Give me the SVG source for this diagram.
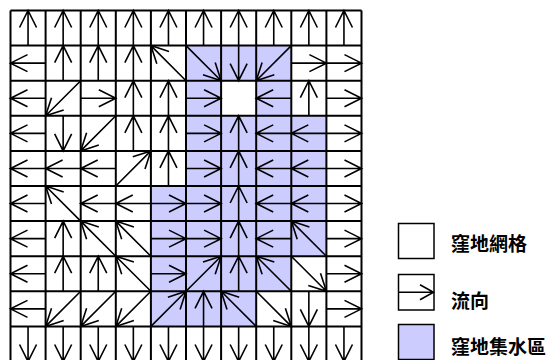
<svg xmlns="http://www.w3.org/2000/svg" xmlns:xlink="http://www.w3.org/1999/xlink" width="547" height="360" viewBox="0 0 547 360">
<style>
.a{fill:none;stroke:#000;stroke-width:1.6;}
.g{fill:none;stroke:#000;stroke-width:2;}
.p{fill:#ccccff;}
.lb{fill:#fff;stroke:#000;stroke-width:1.5;}
.lp{fill:#ccccff;stroke:#000;stroke-width:1.5;}
.t{font-family:"Noto Sans CJK TC","Noto Sans CJK SC",sans-serif;font-size:19px;font-weight:bold;fill:#000;}
</style>
<defs>
<path id="U" class="a" d="M17.55,35.1 V0 M9.05,17 L17.55,0 L26.05,17"/>
<path id="D" class="a" d="M17.55,0 V35.1 M9.05,18.1 L17.55,35.1 L26.05,18.1"/>
<path id="L" class="a" d="M35.1,17.55 H0 M17,9.05 L0,17.55 L17,26.05"/>
<path id="R" class="a" d="M0,17.55 H35.1 M18.1,9.05 L35.1,17.55 L18.1,26.05"/>
<path id="NW" class="a" d="M35.1,35.1 L0,0 M18.1,5.9 L0,0 L5.9,18.1"/>
<path id="NE" class="a" d="M0,35.1 L35.1,0 M17,5.9 L35.1,0 L29.2,18.1"/>
<path id="SW" class="a" d="M35.1,0 L0,35.1 M5.9,17 L0,35.1 L18.1,29.2"/>
<path id="SE" class="a" d="M0,0 L35.1,35.1 M29.2,17 L35.1,35.1 L17,29.2"/>
</defs>
<rect width="547" height="360" fill="#fff"/>
<g id="catchment">
<rect class="p" x="186" y="45.6" width="105.3" height="35.1"/>
<rect class="p" x="186" y="80.7" width="35.1" height="35.1"/>
<rect class="p" x="256.2" y="80.7" width="35.1" height="35.1"/>
<rect class="p" x="186" y="115.8" width="140.4" height="70.2"/>
<rect class="p" x="150.9" y="186" width="175.5" height="70.2"/>
<rect class="p" x="150.9" y="256.2" width="140.4" height="35.1"/>
<rect class="p" x="150.9" y="291.3" width="105.3" height="35.1"/>
</g>
<g id="flow-arrows">
<!-- row 0 -->
<use href="#U" x="10.5" y="10.5"/><use href="#U" x="45.6" y="10.5"/><use href="#U" x="80.7" y="10.5"/><use href="#U" x="115.8" y="10.5"/><use href="#U" x="150.9" y="10.5"/><use href="#U" x="186" y="10.5"/><use href="#U" x="221.1" y="10.5"/><use href="#U" x="256.2" y="10.5"/><use href="#U" x="291.3" y="10.5"/><use href="#U" x="326.4" y="10.5"/>
<!-- row 1 -->
<use href="#L" x="10.5" y="45.6"/><use href="#U" x="45.6" y="45.6"/><use href="#U" x="80.7" y="45.6"/><use href="#U" x="115.8" y="45.6"/><use href="#NW" x="150.9" y="45.6"/><use href="#SE" x="186" y="45.6"/><use href="#D" x="221.1" y="45.6"/><use href="#SW" x="256.2" y="45.6"/><use href="#R" x="291.3" y="45.6"/><use href="#R" x="326.4" y="45.6"/>
<!-- row 2 -->
<use href="#L" x="10.5" y="80.7"/><use href="#SW" x="45.6" y="80.7"/><use href="#R" x="80.7" y="80.7"/><use href="#U" x="115.8" y="80.7"/><use href="#U" x="150.9" y="80.7"/><use href="#R" x="186" y="80.7"/><use href="#L" x="256.2" y="80.7"/><use href="#U" x="291.3" y="80.7"/><use href="#R" x="326.4" y="80.7"/>
<!-- row 3 -->
<use href="#L" x="10.5" y="115.8"/><use href="#D" x="45.6" y="115.8"/><use href="#SW" x="80.7" y="115.8"/><use href="#U" x="115.8" y="115.8"/><use href="#U" x="150.9" y="115.8"/><use href="#R" x="186" y="115.8"/><use href="#U" x="221.1" y="115.8"/><use href="#L" x="256.2" y="115.8"/><use href="#L" x="291.3" y="115.8"/><use href="#R" x="326.4" y="115.8"/>
<!-- row 4 -->
<use href="#L" x="10.5" y="150.9"/><use href="#L" x="45.6" y="150.9"/><use href="#L" x="80.7" y="150.9"/><use href="#NE" x="115.8" y="150.9"/><use href="#U" x="150.9" y="150.9"/><use href="#R" x="186" y="150.9"/><use href="#U" x="221.1" y="150.9"/><use href="#L" x="256.2" y="150.9"/><use href="#L" x="291.3" y="150.9"/><use href="#R" x="326.4" y="150.9"/>
<!-- row 5 -->
<use href="#L" x="10.5" y="186"/><use href="#NW" x="45.6" y="186"/><use href="#L" x="80.7" y="186"/><use href="#L" x="115.8" y="186"/><use href="#R" x="150.9" y="186"/><use href="#R" x="186" y="186"/><use href="#U" x="221.1" y="186"/><use href="#L" x="256.2" y="186"/><use href="#L" x="291.3" y="186"/><use href="#R" x="326.4" y="186"/>
<!-- row 6 -->
<use href="#L" x="10.5" y="221.1"/><use href="#U" x="45.6" y="221.1"/><use href="#NW" x="80.7" y="221.1"/><use href="#NW" x="115.8" y="221.1"/><use href="#R" x="150.9" y="221.1"/><use href="#R" x="186" y="221.1"/><use href="#U" x="221.1" y="221.1"/><use href="#L" x="256.2" y="221.1"/><use href="#NW" x="291.3" y="221.1"/><use href="#R" x="326.4" y="221.1"/>
<!-- row 7 -->
<use href="#L" x="10.5" y="256.2"/><use href="#U" x="45.6" y="256.2"/><use href="#U" x="80.7" y="256.2"/><use href="#NW" x="115.8" y="256.2"/><use href="#R" x="150.9" y="256.2"/><use href="#NE" x="186" y="256.2"/><use href="#U" x="221.1" y="256.2"/><use href="#NW" x="256.2" y="256.2"/><use href="#SE" x="291.3" y="256.2"/><use href="#R" x="326.4" y="256.2"/>
<!-- row 8 -->
<use href="#L" x="10.5" y="291.3"/><use href="#SW" x="45.6" y="291.3"/><use href="#SW" x="80.7" y="291.3"/><use href="#SW" x="115.8" y="291.3"/><use href="#NE" x="150.9" y="291.3"/><use href="#U" x="186" y="291.3"/><use href="#NW" x="221.1" y="291.3"/><use href="#SE" x="256.2" y="291.3"/><use href="#D" x="291.3" y="291.3"/><use href="#R" x="326.4" y="291.3"/>
<!-- row 9 -->
<use href="#D" x="10.5" y="326.4"/><use href="#D" x="45.6" y="326.4"/><use href="#D" x="80.7" y="326.4"/><use href="#D" x="115.8" y="326.4"/><use href="#D" x="150.9" y="326.4"/><use href="#D" x="186" y="326.4"/><use href="#D" x="221.1" y="326.4"/><use href="#D" x="256.2" y="326.4"/><use href="#D" x="291.3" y="326.4"/><use href="#D" x="326.4" y="326.4"/>
</g>
<g id="grid">
<path class="g" d="M10.5,10.5 V361.5 M45.6,10.5 V361.5 M80.7,10.5 V361.5 M115.8,10.5 V361.5 M150.9,10.5 V361.5 M186,10.5 V361.5 M221.1,10.5 V361.5 M256.2,10.5 V361.5 M291.3,10.5 V361.5 M326.4,10.5 V361.5 M361.5,10.5 V361.5 M10.5,10.5 H361.5 M10.5,45.6 H361.5 M10.5,80.7 H361.5 M10.5,115.8 H361.5 M10.5,150.9 H361.5 M10.5,186 H361.5 M10.5,221.1 H361.5 M10.5,256.2 H361.5 M10.5,291.3 H361.5 M10.5,326.4 H361.5"/>
</g>
<g id="legend-cell">
<rect class="lb" x="398.5" y="223.5" width="35.5" height="35"/>
<text class="t" x="451" y="242.5" dominant-baseline="central">窪地網格</text>
</g>
<g id="legend-flow">
<rect class="lb" x="398.5" y="274.5" width="35.5" height="35.5"/>
<path class="a" d="M398.5,292.3 H434 M420,284.8 L433.5,292.3 L420,299.8"/>
<text class="t" x="451" y="299" dominant-baseline="central">流向</text>
</g>
<g id="legend-catchment">
<rect class="lp" x="398.5" y="324.5" width="35.5" height="35"/>
<text class="t" x="451" y="345.5" dominant-baseline="central">窪地集水區</text>
</g>
</svg>
